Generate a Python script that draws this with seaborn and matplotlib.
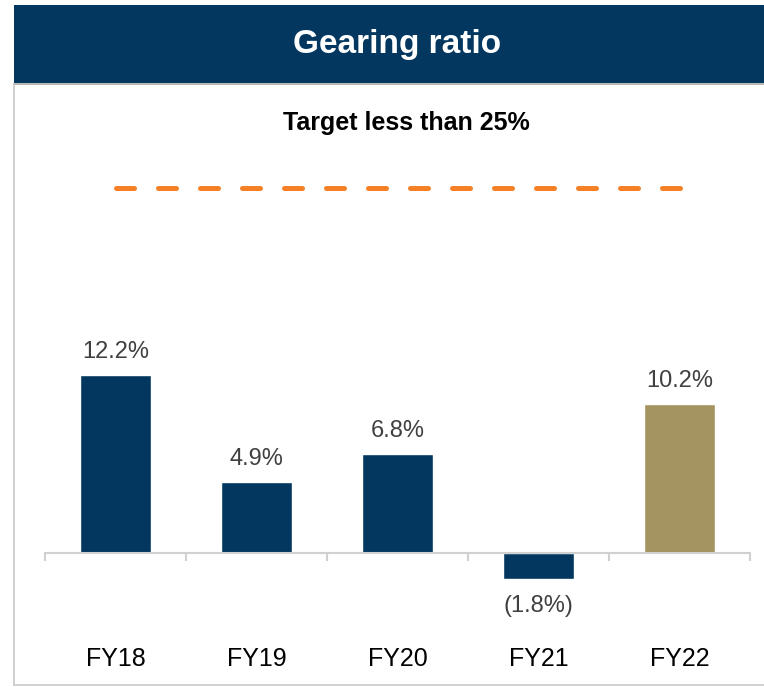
import matplotlib
matplotlib.use('Agg')
import matplotlib.pyplot as plt
from matplotlib.patches import Rectangle
from matplotlib.lines import Line2D
import seaborn as sns

# chart data
years = ['FY18', 'FY19', 'FY20', 'FY21', 'FY22']
gearing = [12.2, 4.9, 6.8, -1.8, 10.2]
target = 25
bar_colors = ['#03375f', '#03375f', '#03375f', '#03375f', '#a39461']

NAVY = '#03375f'
ORANGE = '#f58025'
GRID = '#d0d0d0'
W, H = 764, 687

sns.set_theme(style='white')
plt.rcParams['font.family'] = ['Liberation Sans', 'DejaVu Sans']

fig = plt.figure(figsize=(W / 100, H / 100), dpi=100)


def fx(px):
    return px / W


def fy(px):
    return 1 - px / H


# banner + frame
fig.add_artist(Rectangle((fx(14), fy(83)), fx(750), 78 / H,
                         transform=fig.transFigure, color=NAVY, lw=0))
fig.add_artist(Line2D([fx(14), fx(764)], [fy(84), fy(84)], transform=fig.transFigure,
                      color='#b8b8b8', lw=1.5))
fig.add_artist(Line2D([fx(14), fx(14)], [fy(84), fy(685)], transform=fig.transFigure,
                      color='#c8c8c8', lw=1.2))
fig.add_artist(Line2D([fx(14), fx(764)], [fy(685), fy(685)], transform=fig.transFigure,
                      color='#c8c8c8', lw=1.2))
fig.text(fx(397), fy(45), 'Gearing ratio', color='white', fontsize=24,
         fontweight='bold', ha='center', va='center')
fig.text(fx(406), fy(123), 'Target less than 25%', color='black', fontsize=18,
         fontweight='bold', ha='center', va='center')

# plot area: x from 45 to 750 px, y from 100 to 640 px
ax = fig.add_axes([fx(45), fy(640), (750 - 45) / W, 540 / H])
sns.barplot(x=years, y=gearing, hue=years, palette=bar_colors, legend=False,
            width=0.5, saturation=1, ax=ax)
ax.set_xlim(-0.5, len(years) - 0.5)
ax.set_ylim((553 - 640) / 14.59, (553 - 100) / 14.59)

# target line, round-capped dashes
ax.plot([0, len(years) - 0.98], [target, target], color=ORANGE, lw=3.6,
        linestyle=(0, (3.6, 4.8)), dash_capstyle='round')

for i, v in enumerate(gearing):
    label = f'{v:.1f}%' if v >= 0 else f'({abs(v):.1f}%)'
    off = 16.5 if v >= 0 else -19.5
    ax.annotate(label, (i, v), xytext=(0, off), textcoords='offset points',
                ha='center', va='center', fontsize=17, color='#404040')

for s in ['top', 'right', 'left']:
    ax.spines[s].set_visible(False)
ax.spines['bottom'].set_position(('data', 0))
ax.spines['bottom'].set_color(GRID)
ax.spines['bottom'].set_linewidth(1.5)
ax.set_yticks([])
ax.set_xticks(range(len(years)))
ax.set_xticklabels(years)
ax.set_xticks([i - 0.5 for i in range(len(years) + 1)], minor=True)
ax.tick_params(axis='x', which='major', length=0, pad=68, labelsize=18,
               labelcolor='black')
ax.tick_params(axis='x', which='minor', length=6, width=1.5, color=GRID,
               direction='out', bottom=True)
ax.set_xlabel('')
ax.set_ylabel('')
ax.patch.set_alpha(0)

fig.savefig('out.png', dpi=100)
